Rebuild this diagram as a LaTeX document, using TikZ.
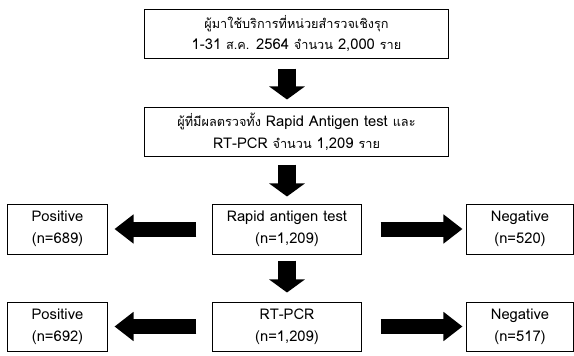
\documentclass[tikz,border=0pt]{standalone}
\usepackage{fontspec}
\setmainfont[Script=Thai]{Loma}
\newfontfamily\thaifont[Script=Thai,Scale=0.86]{Loma}
\newcommand{\thw}[1]{{\thaifont #1}}
\usetikzlibrary{arrows.meta}

\tikzset{
	box/.style={draw, line width=0.7pt, inner sep=0pt, align=center, font=\fontsize{10.5}{15.6}\selectfont},
	harrow/.style={line width=0.375cm, -{Triangle[length=0.475cm, width=0.7cm]}},
	varrow/.style={line width=0.45cm, -{Triangle[length=0.325cm, width=0.875cm]}}
}

\begin{document}
\begin{tikzpicture}[x=0.025cm, y=-0.025cm]
	\useasboundingbox (0,0) rectangle (574,356);
	% top part
	\node[box, minimum width=7.575cm, minimum height=1.225cm] (users) at (296.5,33.5) {\thw{ผู้มาใช้บริการที่หน่วยสำรวจเชิงรุก}\\1-31 \thw{ส.ค.} 2564 \thw{จำนวน} 2,000 \thw{ราย}};
	\node[box, minimum width=7.575cm, minimum height=1.225cm] (tested) at (296.5,131.5) {\thw{ผู้ที่มีผลตรวจทั้ง} Rapid Antigen test \thw{และ}\\RT-PCR \thw{จำนวน} 1,209 \thw{ราย}};
	% rapid antigen row
	\node[box, minimum width=3.7cm, minimum height=1.25cm] (rapid) at (287,229) {Rapid antigen test\\(n=1,209)};
	\node[box, minimum width=2.475cm, minimum height=1.25cm] (rapidpos) at (57.5,229) {Positive\\(n=689)};
	\node[box, minimum width=2.65cm, minimum height=1.25cm] (rapidneg) at (520,229) {Negative\\(n=520)};
	% rt-pcr row
	\node[box, minimum width=3.7cm, minimum height=1.225cm] (pcr) at (287,326.5) {RT-PCR\\(n=1,209)};
	\node[box, minimum width=2.475cm, minimum height=1.225cm] (pcrpos) at (57.5,326.5) {Positive\\(n=692)};
	\node[box, minimum width=2.65cm, minimum height=1.225cm] (pcrneg) at (520,326.5) {Negative\\(n=517)};

	\draw[varrow, shorten <=0.25cm, shorten >=0.175cm] (users.south -| rapid) -- (tested.north -| rapid);
	\draw[varrow, shorten <=0.2cm, shorten >=0.175cm] (tested.south -| rapid) -- (rapid.north);
	\draw[varrow, shorten <=0.15cm, shorten >=0.225cm] (rapid.south) -- (pcr.north);
	\draw[harrow, shorten <=0.4cm, shorten >=0.175cm] (rapid.west) -- (rapidpos.east);
	\draw[harrow, shorten <=0.475cm, shorten >=0.1cm] (rapid.east) -- (rapidneg.west);
	\draw[harrow, shorten <=0.4cm, shorten >=0.175cm] (pcr.west) -- (pcrpos.east);
	\draw[harrow, shorten <=0.475cm, shorten >=0.1cm] (pcr.east) -- (pcrneg.west);
\end{tikzpicture}
\end{document}
